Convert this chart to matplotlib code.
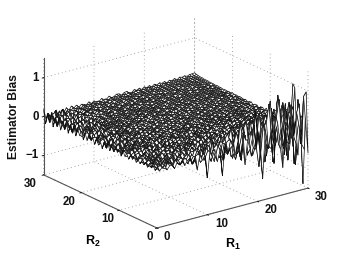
import numpy as np
import matplotlib
matplotlib.use("Agg")
import matplotlib.pyplot as plt
from mpl_toolkits.mplot3d import proj3d

plt.rcParams['font.family'] = ['Liberation Sans', 'DejaVu Sans']
plt.rcParams['mathtext.fontset'] = 'custom'
plt.rcParams['mathtext.bf'] = 'Liberation Sans:bold'
plt.rcParams['mathtext.rm'] = 'Liberation Sans:bold'

r1_values = [i / 2 for i in range(61)]
r2_values = [i / 2 for i in range(61)]
r1_ticks = [0, 10, 20, 30]
r2_ticks = [0, 10, 20, 30]
z_ticks = [-1, 0, 1]
z_tick_labels = ['\u22121', '0', '1']
# Estimated bias (x100); one row per R2, one column per R1
bias_pct = [
[3,-5,2,6,-7,1,4,-9,5,-3, 6,-8,2,7,-10,3,-28,8,-6,4, -55,9,-5,12,-20,6,-60,14,-9,5, 10,-16,12,-22,8,-47,15,-10,18,-14, 22,-26,-95,25,-18,30,-40,20,35,-28, -80,24,12,45,-32,30,-58,40,-135,25, -60],
[-4,2,5,-3,-6,7,2,-5,8,-1, -7,4,6,-9,3,-12,5,8,-14,6, -4,11,-16,7,-10,18,-8,-24,14,-9, 22,-15,-30,16,-34,28,12,-22,30,-12, -8,20,-30,40,-10,-25,18,-14,50,-20, 18,-35,30,-15,72,-10,-30,20,-12,85, 95],
[5,-2,-6,4,3,-8,6,-1,-9,5, 2,7,-6,-3,10,-7,2,-16,12,-5, -11,14,-4,-22,9,16,-18,6,-26,15, 20,-24,8,34,-12,-40,30,-22,18,-36, 42,-18,-68,25,-60,40,85,-30,-70,48, 90,-22,-55,55,-30,50,-85,45,65,-40, -55],
[-2,6,3,-7,1,5,-4,8,-3,-6, 4,6,-10,2,7,-8,4,-14,9,-8, 11,-18,20,12,-10,-28,8,14,-22,10, -6,16,-10,-18,14,-8,22,-12,-20,14, 8,-24,22,-6,-14,30,-12,-30,20,-15, 32,-8,-20,28,-28,12,35,-18,-40,22, 30],
[1,-4,6,2,-5,-2,7,-6,3,6, -7,1,8,-5,-3,9,-8,-5,12,-11, 5,16,-14,5,-20,24,-8,16,-26,10, 18,30,-12,-36,22,-28,48,-24,14,-38, 54,-42,70,18,-50,36,-66,40,85,-72, 25,95,-44,-30,68,-78,40,55,-95,70, -45],
[-5,3,-1,6,4,-7,-3,5,-8,2, 6,-5,-7,3,8,-2,-9,6,4,-10, 7,-13,10,-6,10,-6,14,-10,-4,12, -12,16,-18,8,-12,22,8,-24,16,-14, -6,26,-18,10,-30,22,-10,34,-24,14, -36,30,12,-32,26,-18,40,-28,15,-36, 60],
[4,-6,2,-3,7,1,-5,3,6,-7, -2,5,3,-8,6,-4,2,8,-9,3, 5,-12,4,15,-11,-4,18,-12,7,-20, 24,-10,-26,12,36,-30,-10,22,-34,28, 40,-18,-42,36,-24,52,-46,16,-60,42, 58,-38,-28,70,-54,34,-72,62,28,-66, -20],
[-3,1,5,-5,-2,6,4,-6,-1,7, -5,2,6,-8,-3,5,7,-4,-6,8, 2,-10,9,3,-12,6,10,-12,3,10, -10,-4,14,-12,6,16,-14,-5,18,-15, 8,20,-18,-8,24,-14,28,-18,-10,28, -22,14,32,-24,-12,28,-26,36,-20,10, 92],
[2,-4,-3,6,-4,-1,5,2,-6,-2, 6,3,-4,-6,7,1,-5,8,-3,-7, 4,6,-9,7,-5,1,8,-7,-4,9, -8,-3,10,-9,5,12,-14,-5,18,-16, 22,-20,8,26,-24,-10,34,-30,12,38, -36,42,-16,-46,50,-28,58,-48,34,-20, 100],
[-5,3,6,-2,4,-6,1,-4,4,6, -3,-6,5,-1,4,-7,-2,6,3,-6, 5,8,-4,-8,-2,7,4,-10,6,10, -10,5,11,-8,-5,12,-14,6,-16,14, -10,18,9,-20,14,-22,24,-12,-26,20, 28,-15,-32,28,12,-34,32,-24,35,-18, -40],
[3,5,-4,-6,2,5,-3,6,-5,1, -4,3,6,-5,-2,4,5,-3,-6,2, -5,3,-7,4,8,-6,-3,6,-8,-4, 9,-7,5,-10,3,11,-9,-5,14,-12, 6,18,-16,-8,22,-20,12,26,-26,-14, 32,-30,38,-22,-42,34,46,-50,30,-36, -75],
[-6,-2,7,3,-5,2,6,-4,-1,-5, 4,5,-2,3,-6,-1,4,6,-4,-3, 6,-2,4,-5,-3,5,7,-4,2,7, -8,-5,6,8,-9,4,-10,7,10,-6, -12,9,14,-10,-16,6,18,-14,22,-20, -10,28,-24,16,-30,34,-28,-36,42,26, 20],
[4,-5,1,-6,6,-3,-5,3,5,-2, -6,1,4,-5,4,3,-4,-2,5,1, -4,5,-1,3,-5,-2,3,-5,-3,4, 6,-4,2,-6,5,7,-7,-3,8,-8, 5,9,-11,-4,12,-12,6,15,-14,-8, 18,-16,22,-10,-24,20,26,-30,18,24, -18],
[-3,7,-6,4,-2,6,2,-5,-3,6, 2,-4,-5,3,1,-6,3,-1,-3,5, 2,-4,4,-3,2,4,-5,2,5,-4, -3,6,-2,5,-5,-3,6,3,-6,4, 7,-7,-3,8,-8,5,9,-10,-4,12, -12,8,14,-14,-8,18,-16,24,-20,-12, 30],
[6,-4,3,5,-7,-1,4,6,-2,-4, 5,-3,2,5,-4,6,-3,5,1,-4, -6,3,-3,4,-1,-4,6,4,-3,2, 5,-3,-4,4,1,-5,4,3,-6,-2, 5,-4,6,2,-7,5,-6,-3,8,-7, 6,10,-10,-5,12,-12,16,-14,8,18, -22],
[-7,2,6,-5,3,6,-6,-2,5,1, -3,6,-4,-2,3,-6,5,-3,-2,4, -4,1,5,-6,3,1,-3,-5,3,-3, -2,4,6,-4,3,-3,-1,5,-4,2, 4,-5,1,5,-6,3,5,-7,-2,7, -8,6,8,-9,4,10,-12,6,12,-14, 12],
[5,3,-7,-2,6,-4,-3,5,3,-5, -2,6,5,-3,-4,4,-5,-1,3,-5, 2,4,-3,-5,2,-3,5,3,-4,2, -3,5,-5,3,1,-3,5,-4,3,2, -4,3,-1,-4,4,2,-5,4,-3,5, 3,-6,5,-6,-2,7,-7,4,9,-10, 50],
[-4,-6,4,7,-3,1,6,-5,-4,2, 6,-4,-1,4,5,-3,3,5,-4,1, -5,-3,5,3,-2,4,-5,-1,5,-4, 3,1,-5,2,-4,3,-1,-5,2,3, -3,5,2,-4,3,-2,3,-4,2,4, -5,3,-3,5,2,-6,4,-5,6,-8, -14],
[7,2,-5,-6,5,4,-4,-2,6,-3, 1,4,-6,-2,-3,6,-1,-5,4,3, -4,1,3,-5,2,-1,5,-4,-1,4, -5,3,1,-4,-3,5,3,-4,-1,4, 2,-3,5,-2,-4,3,1,-3,5,2, -3,4,-2,-4,3,4,-5,-2,5,-5, 12],
[-8,5,3,-4,-7,5,2,-5,3,4, -5,-1,5,2,-5,-2,4,1,-4,-3, 5,1,-4,2,-1,5,-3,1,4,-2, 5,-3,1,4,-5,-1,4,-3,3,1, -4,-1,5,-3,1,4,-4,2,-3,4, 2,-3,-4,4,2,-4,3,4,-5,3, -9],
[4,-7,8,1,-4,-3,6,4,-6,-2, 2,-5,4,-3,1,5,-4,-3,3,1, -3,4,-1,-4,3,-2,1,4,-4,-1, -3,4,1,-4,3,-3,-1,4,1,-4, 3,1,-4,-1,4,-3,2,1,-4,3, -1,3,1,-3,2,-3,3,-3,-1,4, 8],
[-3,6,-6,7,2,-6,-4,5,1,-4, 4,2,-5,-1,4,-3,1,4,-3,-1, 4,-2,3,-4,-1,3,2,-3,1,4, 2,-3,-4,3,-1,2,3,-4,-1,3, -2,4,-1,-4,3,1,-3,4,-1,2, 3,-3,3,-3,-1,3,1,-3,2,3, -6],
[9,-5,-2,-8,6,3,-7,-1,5,2, -5,3,1,-5,4,-2,-3,2,4,-1, 2,-3,-2,3,1,-4,-1,3,-2,2, -3,2,3,-1,-4,3,-1,2,-3,-1, 3,-2,2,1,-4,2,-2,3,1,-3, 2,3,-3,-1,3,-3,2,3,-3,1, 5],
[-6,4,9,-3,-7,8,2,-5,-3,5, 1,-4,3,4,-3,2,1,-4,-1,3, -2,4,1,-3,-2,3,-2,-1,4,-3, 1,3,-2,2,-3,-1,3,1,-3,2, -1,-3,3,-1,2,-3,2,-1,-3,3, -1,2,-3,3,1,-3,2,-3,3,1, -4],
[6,-9,2,7,-5,-4,6,3,-5,-2, 3,-5,-1,4,-2,-3,4,1,-3,-1, 3,1,-3,2,-2,3,1,-3,2,1, -3,-1,3,-2,2,1,-3,-1,3,-2, 2,1,-3,2,-1,2,1,-3,2,-1, 3,-2,2,-2,-3,2,1,-3,2,3, 3],
[-8,7,-4,-7,9,4,-6,-3,6,1, -3,4,2,-4,3,1,-4,-1,3,1, -3,-1,3,1,-3,-2,2,1,-3,2, 1,-3,-1,3,1,-2,2,-3,2,1, -2,3,-2,-1,2,-3,2,1,-3,-1, 2,1,-2,3,-1,-2,2,2,-3,-1, 2],
[10,-3,8,2,-8,-6,5,6,-2,-5, 3,1,-4,3,-1,-4,2,3,-2,-1, 3,1,-3,-1,2,3,-2,1,2,-3, -1,2,3,-2,-1,3,1,-3,-1,2, 2,-2,1,3,-2,1,-2,-1,2,1, -2,2,1,-2,1,-2,2,-2,1,2, -3],
[-5,9,-8,-4,6,7,-7,2,4,-3, -2,4,1,-4,3,1,-3,-1,2,3, -3,1,3,-2,1,-3,2,1,3,-2, 1,-3,2,1,-2,2,-2,1,3,-2, 1,2,-2,1,3,-2,1,2,-2,1, 2,-2,1,2,-2,1,2,-2,1,-2, 2],
[7,-10,3,9,-6,-2,8,-4,-5,3, 2,-4,-1,3,2,-3,1,3,-2,1, 2,-3,1,3,1,2,-3,2,1,-3, 2,1,-2,2,1,2,-3,1,2,1, -2,2,1,2,-3,1,2,1,-2,2, 1,1,-2,1,2,1,-2,1,1,2, 2],
[-12,6,-7,4,8,-8,-3,6,2,-4, -3,3,1,-3,4,1,2,-3,1,2, -2,1,3,1,-3,2,1,1,-3,2, 1,1,3,-2,1,1,2,1,-3,1, 2,1,2,-2,2,1,1,2,-2,1, 1,2,1,-2,1,2,1,1,2,-2, -2],
[5,8,-9,-5,7,-2,6,-6,-3,5, 2,-4,3,1,-3,2,-3,2,1,1, 3,-2,1,2,1,1,-3,1,2,1, 1,2,-3,1,1,2,1,1,1,-3, 2,1,1,2,-2,1,1,2,1,1, -2,2,1,1,2,-2,1,2,1,1, 3],
[-7,-4,10,3,-8,6,4,-7,5,-3, -2,4,-1,3,2,-4,1,3,-2,2, 1,3,-3,1,2,1,3,2,-3,1, 2,1,1,3,2,-3,1,2,1,1, 2,-2,1,1,2,1,2,-2,1,2, 1,1,2,-2,2,1,1,2,1,-2, 2],
[9,-6,4,-9,2,7,-6,-3,6,2, -4,2,3,-4,1,2,-3,2,3,-2, 1,2,1,3,-3,2,1,1,2,1, -3,1,2,1,1,2,-3,1,2,1, 1,2,2,-2,1,2,1,2,1,-2, 2,1,2,1,-2,2,2,1,1,2, -1],
[-10,7,-3,8,-6,-4,8,2,-6,4, 1,-3,3,1,-4,1,2,3,-2,1, 2,1,-3,2,1,3,2,-3,1,2, 1,1,2,2,-3,1,2,1,1,2, 2,-3,1,2,2,1,-2,2,1,2, 2,1,-2,2,1,2,2,-2,1,2, 3],
[6,3,-10,6,5,-7,-2,6,-5,-2, 4,1,-4,2,-2,3,1,-3,2,1, 3,-3,2,1,2,-3,1,2,1,1, 2,-3,2,1,2,1,1,-3,2,2, 1,1,2,-3,2,1,2,2,-2,1, 2,2,1,2,-2,2,1,2,2,1, 1],
[-4,10,-5,-7,9,1,-8,5,3,-5, -1,3,2,-4,1,3,-2,1,3,-2, 2,1,1,3,-3,1,2,2,-3,1, 2,1,3,-3,2,1,2,1,2,-3, 2,1,2,2,-2,1,2,2,1,2, -2,2,2,1,2,1,-2,2,2,2, 2],
[11,-8,2,9,-7,-5,6,3,-6,3, 2,-3,1,3,-3,1,2,1,-3,2, 1,-3,2,3,1,-3,2,1,2,1, -3,2,3,1,1,2,-3,2,2,1, 2,-2,2,1,2,2,-2,2,2,1, 2,2,-2,2,1,2,2,2,-2,2, 3],
[-9,4,7,-10,3,8,-4,-6,7,1, -4,3,2,-4,2,1,-3,2,1,1, -3,3,1,2,-3,2,1,1,3,-3, 2,1,2,1,-3,2,2,1,3,1, -3,2,2,2,1,-2,2,2,1,2, 2,-2,2,2,2,1,2,-2,2,2, 2],
[7,6,-11,4,8,-9,-2,7,-4,-4, 5,1,-4,2,-2,3,1,-3,2,1, 2,-3,3,1,1,2,-3,2,1,2, 1,-3,2,2,3,1,-3,2,2,2, 1,2,-2,2,2,1,2,2,-2,2, 2,2,1,-2,2,2,2,1,2,-2, 3],
[-12,9,-2,-9,10,2,-7,6,3,-6, -2,4,1,-3,2,-2,1,3,-3,2, 1,2,-3,1,3,2,-3,2,1,2, 2,1,-3,2,2,1,3,2,-3,2, 2,1,2,2,-2,2,2,2,1,2, -2,2,2,2,2,-2,2,2,2,1, 2],
[8,-7,10,3,-10,6,5,-8,2,6, -4,-2,4,1,-3,2,1,-3,2,1, -3,2,3,1,-3,2,1,2,2,-3, 1,2,2,1,-3,2,2,2,1,2, -3,2,2,2,1,2,-2,2,2,2, 2,1,-2,2,2,2,2,1,-2,2, 4],
[-5,-9,5,11,-6,-3,9,-6,-4,5, 3,-4,1,3,-3,1,2,-2,1,3, 2,-3,1,2,3,1,-3,2,2,1, 2,-3,2,2,1,3,2,-3,2,2, 2,1,2,-2,2,2,2,1,2,2, -2,2,2,2,1,2,2,-2,2,2, 2],
[10,4,-12,2,9,-8,-4,9,2,-7, 4,2,-4,3,1,-3,2,1,-2,3, 1,2,-3,2,1,3,2,-3,2,2, 1,2,-3,2,2,2,1,2,-2,2, 2,2,2,1,-2,2,2,2,2,1, 2,-2,2,2,2,2,1,2,-2,2, 3],
[-11,10,-3,-10,7,5,-10,4,6,-5, -3,5,1,-3,2,1,-3,2,1,1, -3,2,2,1,3,-3,2,1,2,2, -3,2,2,3,1,-3,2,2,2,2, 1,-2,2,2,2,2,2,-2,2,2, 2,2,-2,2,2,2,2,1,2,-2, 2],
[12,-6,9,5,-12,3,8,-7,-3,7, 2,-4,3,2,-3,2,1,-3,2,2, 1,-3,2,3,1,2,-3,2,2,2, 3,-3,2,2,2,1,2,-2,2,2, 2,2,1,-2,2,2,2,2,2,-2, 2,2,2,2,-2,2,2,2,2,-2, 3],
[-6,11,-9,-5,11,-4,-7,8,3,-6, 4,1,-3,3,-2,2,2,-3,1,2, 3,1,-3,2,2,3,-3,2,2,1, 2,3,-2,2,2,2,2,-2,2,2, 2,2,2,-2,2,2,2,2,2,-2, 2,2,3,2,2,-2,2,2,3,2, 2],
[9,-12,4,10,-8,-6,10,2,-8,4, 3,-5,2,2,-3,1,3,1,-3,2, 2,2,-3,1,2,3,2,-3,2,2, 2,1,3,-3,2,2,2,2,2,-2, 3,2,2,2,-2,2,3,2,2,2, -2,2,2,3,2,2,-2,2,2,3, 3],
[-13,8,5,-11,6,7,-9,-2,7,-5, -2,5,-1,3,1,-3,2,1,3,-2, 2,2,1,-3,2,3,2,2,-3,2, 2,2,3,-3,2,3,2,2,-2,2, 2,3,2,2,-2,2,2,3,2,2, 2,-2,3,2,2,2,2,-2,3,2, 3],
[15,-4,-10,8,3,-10,6,6,-7,2, 5,-4,-2,3,2,-3,1,2,-2,3, 1,2,3,-3,2,2,1,3,2,-3, 2,2,3,2,-3,2,2,2,3,-2, 2,2,2,3,2,-2,2,3,2,2, 3,2,-2,2,3,2,2,3,-1,2, 4],
[-8,13,-6,-8,12,1,-9,7,2,-7, 4,2,-4,2,1,-3,2,-2,3,2, -3,2,2,3,-3,2,2,3,-2,2, 2,3,2,-3,2,2,3,2,2,-2, 3,2,2,3,-2,2,3,2,3,2, -2,3,2,3,2,2,3,-1,2,3, 3],
[11,-11,3,12,-9,-3,11,-5,-6,6, 2,-4,3,1,-3,2,1,3,-2,2, 2,3,-2,2,3,2,-2,2,3,3, 2,-2,3,2,2,3,-2,2,3,2, 2,3,-2,2,3,3,2,-1,3,2, 3,3,2,-1,3,3,2,3,3,-1, 4],
[-14,6,8,-12,5,9,-10,3,7,-6, -2,5,2,-3,2,1,-3,2,3,-2, 2,3,2,-2,2,3,3,2,-2,3, 2,2,3,2,-2,3,2,3,3,-2, 2,3,3,2,3,-1,3,3,2,3, 3,-1,3,3,3,2,3,-1,3,3, 4],
[13,-3,-12,7,7,-11,-2,10,-6,-3, 6,1,-4,3,1,-3,2,2,1,-2, 3,2,3,3,-2,2,3,2,3,-2, 2,3,3,2,3,-2,2,3,3,3, -1,3,2,3,3,2,-1,3,3,3, 3,2,3,-1,3,3,3,3,2,3, 4],
[-9,12,-5,-10,13,-2,-9,8,4,-7, 3,4,-4,2,2,-3,3,1,2,3, -2,3,2,3,2,3,-2,3,2,3, 3,-2,3,3,2,3,3,-1,3,3, 3,2,3,-1,3,3,3,3,2,3, -1,3,4,3,3,3,3,2,4,3, 5],
[10,-13,7,11,-10,-5,12,-2,-8,6, 1,-5,4,2,-3,2,1,3,-2,2, 3,2,3,-2,3,2,3,3,-1,3, 3,2,3,3,3,-1,3,3,3,4, 2,3,-1,3,3,4,3,3,3,-1, 4,3,3,4,3,3,4,3,3,4, 5],
[-15,7,5,-13,8,6,-11,5,5,-8, 2,4,-3,3,-1,3,2,-2,3,2, 2,3,-2,3,3,2,3,3,-1,3, 3,3,3,-1,3,4,3,3,3,3, -1,3,4,3,3,4,3,3,4,3, 3,4,3,4,3,4,4,3,4,4, 5],
[14,-5,-11,9,4,-12,4,9,-9,1, 6,-3,-3,4,1,-2,3,2,2,-2, 3,3,2,3,3,-1,3,3,3,3, 2,3,4,3,3,-1,3,4,3,3, 4,3,3,4,3,4,3,4,4,3, 4,4,3,4,4,4,3,4,5,4, 6],
[-7,15,-8,-9,14,-3,-10,9,-1,-7, 5,2,-4,3,2,1,-2,3,2,3, 3,2,3,3,-1,3,4,3,3,3, 3,4,3,3,4,3,3,4,3,4, 3,4,4,3,4,4,3,4,4,4, 4,3,4,5,4,4,4,5,4,5, 6],
[12,-12,6,10,-12,-6,13,-4,-7,7, 2,-3,5,1,2,3,2,1,3,2, 3,3,3,2,3,4,3,3,4,3, 4,3,3,4,4,3,4,4,3,4, 4,4,3,5,4,4,4,5,4,4, 5,4,5,5,4,5,5,5,5,5, 7],
[-16,8,-7,-3,11,-9,-2,9,-3,4, -2,7,1,6,-1,5,2,4,1,5, 1,6,2,4,6,2,6,3,5,6, 2,6,4,6,2,5,6,7,3,6, 4,7,3,6,7,5,3,7,4,6, 5,7,4,6,5,6,5,7,6,6, 8],
[18,-9,4,-10,-3,8,-11,3,-5,7, -2,8,1,7,-1,6,4,1,7,1, 6,2,1,7,3,2,8,2,4,8, 7,2,7,8,3,2,8,4,8,3, 8,4,8,3,8,4,8,5,8,3, 8,5,9,4,9,7,9,6,9,9, 10],
]

R1, R2 = np.meshgrid(r1_values, r2_values)
Z = np.array(bias_pct) / 100.0

px = 1 / 100
fig = plt.figure(figsize=(341 * px, 257 * px), dpi=100, facecolor='white')
ax = fig.add_axes([0.1, 0.1, 0.8, 0.8], projection='3d', proj_type='ortho')
ax.patch.set_alpha(0)
ax.view_init(elev=20.6, azim=-126.9)
ax.set_box_aspect((1, 1, 0.66))
ax.set_xlim(0, 30, view_margin=0)
ax.set_ylim(0, 30, view_margin=0)
ax.set_zlim(-1.5, 1.5, view_margin=0)

ax.plot_surface(R1, R2, Z, rstride=1, cstride=1, color='white', edgecolor='#111111',
                linewidth=0.5, shade=False, antialiased=True)

ax.set_xticks(r1_ticks)
ax.set_yticks(r2_ticks)
ax.set_zticks(z_ticks)
ax.set_xticklabels([])
ax.set_yticklabels([])
ax.set_zticklabels([])

for axis in (ax.xaxis, ax.yaxis, ax.zaxis):
    axis.pane.set_visible(False)
    axis.line.set_color('#555555')
    axis.line.set_linewidth(0.8)
    axis._axinfo['grid'].update(color='#8c8c8c', linestyle=(0, (1, 3.5)), linewidth=0.6)
    axis._axinfo['tick'].update(inward_factor=0.12, outward_factor=0.0)
    axis._axinfo['tick']['linewidth'] = {True: 0.6, False: 0.4}
    axis._axinfo['tick']['color'] = '#555555'

# fit the box onto the reference's corners
W, H = 341.0, 257.0
target_o = np.array([157.0, H - 228.0])
target_dx = 151.0


def to_px(x, y, z):
    a, b, _c = proj3d.proj_transform(x, y, z, ax.get_proj())
    return ax.transData.transform((a, b))


for _ in range(3):
    fig.canvas.draw()
    p0 = to_px(0, 0, -1.5)
    p1 = to_px(30, 0, -1.5)
    s = target_dx / (p1[0] - p0[0])
    pos = ax.get_position()
    w = pos.width * W * s
    h = pos.height * H * s
    cx, cy = (pos.x0 + pos.width / 2) * W, (pos.y0 + pos.height / 2) * H
    ncx = target_o[0] + (cx - p0[0]) * s
    ncy = target_o[1] + (cy - p0[1]) * s
    ax.set_position([(ncx - w / 2) / W, (ncy - h / 2) / H, w / W, h / H])
fig.canvas.draw()

tick_font = dict(transform=None, ha='center', va='center', fontsize=8.3, fontweight='bold', color='#111111')
for t, dx in zip(r1_ticks, [10, 14, 13, 13]):
    p = to_px(t, 0, -1.5)
    fig.text(p[0] + dx, p[1] - 9, str(t), **tick_font)
for t, dx in zip(r2_ticks, [-7, -11, -12, -13]):
    p = to_px(0, t, -1.5)
    fig.text(p[0] + dx, p[1] - 9, str(t), **tick_font)
for t, lab in zip(z_ticks, z_tick_labels):
    p = to_px(0, 30, t)
    fig.text(p[0] - 5, p[1], lab, transform=None, ha='right', va='center', fontsize=8.3,
             fontweight='bold', color='#111111')

fig.text(14.5, H - 117, 'Estimator Bias', transform=None, rotation=90, ha='center', va='center',
         fontsize=8.7, fontweight='bold', color='#111111')
fig.text(93, H - 241, r'$\mathbf{R_2}$', transform=None, ha='center', va='center', fontsize=9)
fig.text(233, H - 244, r'$\mathbf{R_1}$', transform=None, ha='center', va='center', fontsize=9)

fig.savefig('out.png', dpi=100)
